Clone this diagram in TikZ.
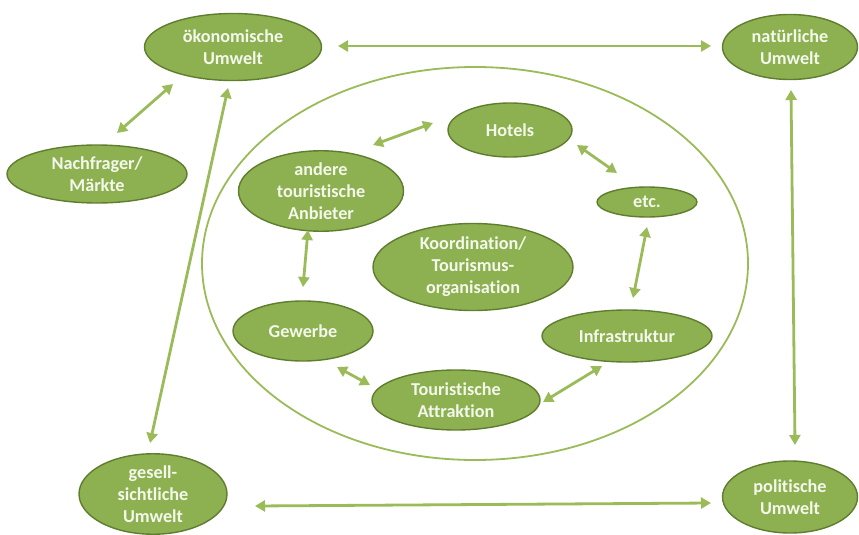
\documentclass[tikz,border=0pt]{standalone}
\usepackage{fontspec}
\setmainfont{Carlito}[Ligatures=NoCommon]
\usetikzlibrary{shapes.geometric,arrows.meta,calc}
\definecolor{fillg}{HTML}{8DB050}
\definecolor{edgeg}{HTML}{5F7D2E}
\definecolor{arrg}{HTML}{9BBB59}
\definecolor{txtg}{HTML}{F4F8EC}
\tikzset{
  blob/.style={ellipse, draw=edgeg, line width=1.4pt, fill=fillg, inner sep=0pt,
    text=txtg, font=\fontsize{18.2}{22}\selectfont\bfseries, align=center},
  arr/.style={draw=arrg, line width=2.8pt,
    {Triangle[length=10pt,width=11pt]}-{Triangle[length=10pt,width=11pt]}},
  ring/.style={ellipse, draw=arrg, line width=1.8pt, inner sep=0pt}
}
\begin{document}
\begin{tikzpicture}[x=1pt,y=-1pt]
\useasboundingbox (0,0) rectangle (859,535);
% big surrounding ellipse
\node[ring, minimum width=546pt, minimum height=393pt] (big) at (475,263.5) {};
% outer nodes
\node[blob, minimum width=177pt, minimum height=67pt] (oek) at (233,47) {ökonomische\\Umwelt};
\node[blob, minimum width=135pt, minimum height=65pt] (nat) at (790,47) {natürliche\\Umwelt};
\node[blob, minimum width=180pt, minimum height=58pt] (nach) at (97,174) {Nachfrager/\\Märkte};
\node[blob, minimum width=148pt, minimum height=78pt] (ges) at (153,494) {gesell-\\sichtliche\\Umwelt};
\node[blob, minimum width=135pt, minimum height=72pt] (pol) at (790,497) {politische\\Umwelt};
% inner nodes
\node[blob, minimum width=124pt, minimum height=54pt] (hot) at (510,130) {Hotels};
\node[blob, minimum width=100pt, minimum height=30pt] (etc) at (647,202) {etc.};
\node[blob, minimum width=165pt, minimum height=68pt] (and) at (321,191) {andere\\touristische\\Anbieter};
\node[blob, minimum width=200pt, minimum height=87pt] (koo) at (473,267) {Koordination/\\Tourismus-\\organisation};
\node[blob, minimum width=140pt, minimum height=60pt] (gew) at (303,331) {Gewerbe};
\node[blob, minimum width=170pt, minimum height=52pt] (inf) at (627,336) {Infrastruktur};
\node[blob, minimum width=168pt, minimum height=60pt] (tou) at (456,400) {Touristische\\Attraktion};
% outer connectors
\draw[arr] ($(oek)+(105,-1)$) -- ($(nat)+(-79,-1)$);
\draw[arr] ($(oek)+(-60,37)$) -- ($(nach)+(20,-41)$);
\draw[arr] ($(oek)+(-5,41)$) -- ($(ges)+(-3,-51)$);
\draw[arr] ($(nat)+(1,43)$) -- ($(pol)+(5,-52)$);
\draw[arr] ($(ges)+(102,12)$) -- ($(pol)+(-79,6)$);
% inner connectors
\draw[arr] ($(hot)+(-77,-7)$) -- ($(and)+(52,-46)$);
\draw[arr] ($(hot)+(67,15)$) -- ($(etc)+(-30,-29)$);
\draw[arr] ($(etc)+(0,25)$) -- ($(inf)+(6,-38)$);
\draw[arr] ($(and)+(-13,39)$) -- ($(gew)+(0,-44)$);
\draw[arr] ($(gew)+(34,36)$) -- ($(tou)+(-86,-15)$);
\draw[arr] ($(tou)+(87,2)$) -- ($(inf)+(-25,30)$);
\end{tikzpicture}
\end{document}
